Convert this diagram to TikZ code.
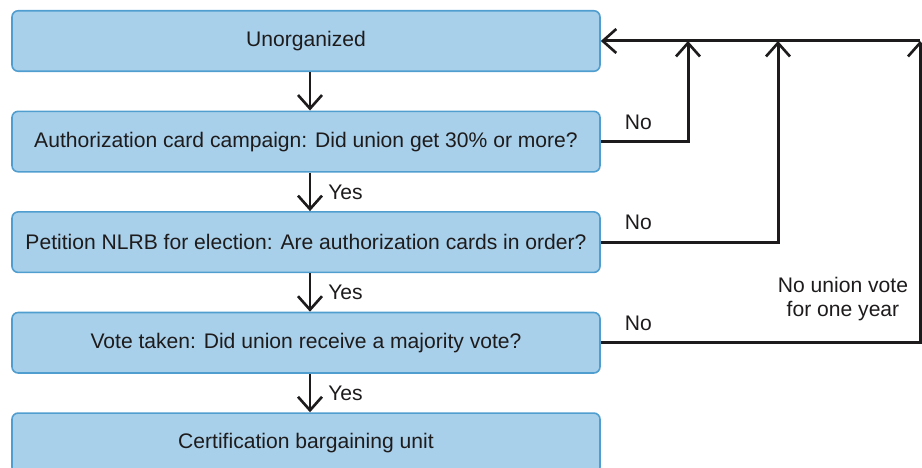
\documentclass[tikz,border=0pt]{standalone}
\usepackage{fontspec}
\setmainfont{Liberation Sans}
\definecolor{boxfill}{RGB}{168,208,234}
\definecolor{boxline}{RGB}{80,158,208}
\definecolor{inkgray}{RGB}{30,27,28}
\usetikzlibrary{arrows.meta, positioning, calc}

\begin{document}
\begin{tikzpicture}[
      box/.style={rectangle, rounded corners=3.5pt, minimum width=11.76cm,
                  minimum height=1.21cm, text centered, font=\fontsize{12}{14}\selectfont,
                  draw=boxline, line width=0.9pt, fill=boxfill, text=inkgray},
      arr/.style={-{Straight Barb[length=2.7mm,width=4.8mm,line width=1.5pt]},
                  line width=1.7pt, color=inkgray},
      lbl/.style={font=\fontsize{12}{14}\selectfont, text=inkgray, inner sep=1pt},
      node distance=0.77cm
    ]
    \useasboundingbox (0,0) rectangle (18.44,9.36);

    \node[box] (unorg) at (6.12,8.54) {Unorganized};
    \node[box, below=of unorg]    (card)  {Authorization card campaign: Did union get 30\% or more?};
    \node[box, below=of card]     (pet)   {Petition NLRB for election: Are authorization cards in order?};
    \node[box, below=of pet]      (vote)  {Vote taken: Did union receive a majority vote?};
    \node[box, below=of vote]     (cert)  {Certification bargaining unit};

    % down arrows
    \draw[arr] ([xshift=0.08cm]unorg.south) -- ([xshift=0.08cm]card.north);
    \draw[arr] ([xshift=0.08cm]card.south) -- node[lbl, right=0.3cm] (yes1) {Yes} ([xshift=0.08cm]pet.north);
    \draw[arr] ([xshift=0.08cm]pet.south)  -- node[lbl, right=0.3cm] (yes2) {Yes} ([xshift=0.08cm]vote.north);
    \draw[arr] ([xshift=0.08cm]vote.south) -- node[lbl, right=0.3cm] (yes3) {Yes} ([xshift=0.08cm]cert.north);

    % return lines
    \coordinate (j1) at (13.76,8.54);
    \coordinate (j2) at (15.56,8.54);
    \coordinate (j3) at (18.40,8.54);
    \draw[arr] (card.east) -| (j1);
    \draw[arr] (pet.east)  -| (j2);
    \draw[arr] (vote.east) -| (j3);
    \draw[arr] (j3) -- (unorg.east);

    \node[lbl, above right=0.2cm and 0.44cm of card.east] (no1) {No};
    \node[lbl, above right=0.2cm and 0.44cm of pet.east]  (no2) {No};
    \node[lbl, above right=0.2cm and 0.44cm of vote.east] (no3) {No};

    \node[lbl, align=center] (wait) at (16.86,3.38) {No union vote\\for one year};
  \end{tikzpicture}
\end{document}
